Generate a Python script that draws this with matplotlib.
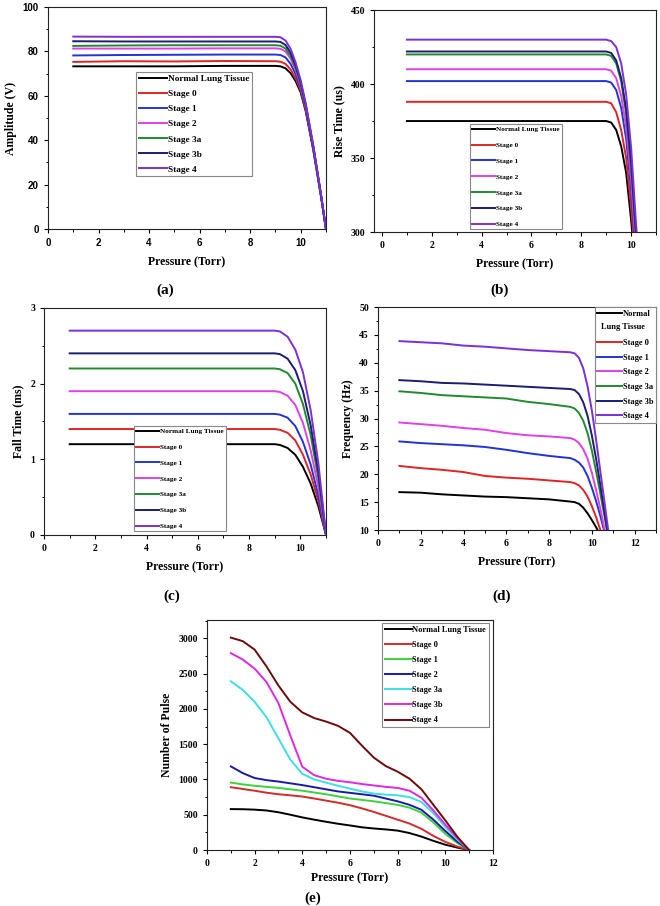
import matplotlib
matplotlib.use("Agg")
import matplotlib.pyplot as plt
from matplotlib.ticker import MultipleLocator, AutoMinorLocator
from matplotlib.legend_handler import HandlerBase
from matplotlib.text import Text

plt.rcParams["font.family"] = "Liberation Serif"
plt.rcParams["font.weight"] = "bold"
plt.rcParams["axes.labelweight"] = "bold"

stages = ["Normal Lung Tissue", "Stage 0", "Stage 1", "Stage 2", "Stage 3a", "Stage 3b", "Stage 4"]

# (a) amplitude
x_a = [1, 3, 5, 7, 9, 9.2, 9.4, 9.6, 9.8, 10.0, 10.2, 10.5, 10.8, 11]
amp = [
    [73.3, 73.3, 73.3, 73.5, 73.5, 73.3, 72.4, 70.2, 66.6, 61.5, 53.0, 35.5, 15.0, 0],
    [75.3, 75.6, 75.5, 75.7, 75.6, 75.4, 74.4, 71.9, 67.9, 62.3, 53.5, 35.8, 15.1, 0],
    [78.2, 78.4, 78.5, 78.6, 78.6, 78.4, 77.3, 74.4, 69.8, 63.5, 54.2, 36.2, 15.3, 0],
    [81.3, 81.3, 81.3, 81.4, 81.4, 81.2, 80.0, 76.8, 71.6, 64.7, 55.0, 36.6, 15.4, 0],
    [82.5, 82.7, 82.8, 82.8, 82.8, 82.6, 81.3, 78.0, 72.5, 65.3, 55.4, 36.8, 15.5, 0],
    [84.6, 84.5, 84.5, 84.5, 84.5, 84.3, 82.9, 79.4, 73.6, 66.0, 55.9, 37.1, 15.6, 0],
    [86.7, 86.6, 86.6, 86.6, 86.6, 86.4, 84.9, 81.2, 75.0, 67.0, 56.5, 37.5, 15.8, 0],
]

# (b) rise time
x_b = [1, 5, 9, 9.2, 9.4, 9.6, 9.8, 10.0, 10.2, 10.4]
rise = [
    [375, 375, 375, 374, 369, 358, 340, 308, 268, 230],
    [388, 388, 388, 387, 381, 369, 350, 317, 274, 235],
    [402, 402, 402, 401, 396, 384, 363, 328, 282, 240],
    [410, 410, 410, 409, 404, 392, 371, 335, 288, 245],
    [420, 420, 420, 419, 414, 402, 380, 344, 295, 250],
    [422, 422, 422, 421, 416, 404, 383, 347, 298, 252],
    [430, 430, 430, 429, 425, 414, 393, 357, 305, 258],
]

# (c) fall time
x_c = [1, 5, 9, 9.2, 9.5, 9.8, 10.1, 10.4, 10.7, 11]
fall = [
    [1.2, 1.2, 1.2, 1.19, 1.15, 1.06, 0.90, 0.68, 0.38, 0],
    [1.4, 1.4, 1.4, 1.39, 1.35, 1.25, 1.06, 0.80, 0.45, 0],
    [1.6, 1.6, 1.6, 1.59, 1.55, 1.44, 1.23, 0.93, 0.52, 0],
    [1.9, 1.9, 1.9, 1.89, 1.84, 1.72, 1.48, 1.12, 0.63, 0],
    [2.2, 2.2, 2.2, 2.19, 2.14, 2.00, 1.73, 1.32, 0.75, 0],
    [2.4, 2.4, 2.4, 2.39, 2.33, 2.18, 1.90, 1.45, 0.83, 0],
    [2.7, 2.7, 2.7, 2.69, 2.62, 2.45, 2.15, 1.65, 0.95, 0],
]

# (d) frequency
x_d = [1, 2, 3, 4, 5, 6, 7, 8, 9, 9.2, 9.4, 9.6, 9.8, 10.0, 10.2, 10.4, 10.6, 10.8]
freq = [
    [16.8, 16.7, 16.4, 16.2, 16.0, 15.9, 15.7, 15.5, 15.1, 15.0, 14.7, 14.0, 13.0, 11.8, 10.5, 9.0, 7.5, 6.0],
    [21.5, 21.1, 20.8, 20.4, 19.7, 19.4, 19.2, 18.9, 18.6, 18.4, 18.0, 17.2, 16.0, 14.3, 12.3, 10.0, 7.5, 5.0],
    [25.9, 25.6, 25.4, 25.2, 24.9, 24.4, 23.8, 23.3, 22.9, 22.6, 22.1, 21.2, 19.7, 17.6, 15.2, 12.5, 9.5, 6.5],
    [29.3, 29.0, 28.7, 28.3, 28.0, 27.4, 27.0, 26.8, 26.5, 26.2, 25.6, 24.5, 22.8, 20.3, 17.2, 13.8, 10.0, 6.5],
    [34.9, 34.6, 34.2, 34.0, 33.8, 33.6, 33.0, 32.6, 32.1, 31.8, 31.0, 29.6, 27.4, 24.3, 20.5, 16.5, 12.3, 8.0],
    [36.9, 36.7, 36.4, 36.3, 36.1, 35.9, 35.7, 35.5, 35.3, 35.1, 34.4, 32.9, 30.5, 27.0, 22.8, 18.0, 13.0, 8.0],
    [43.9, 43.7, 43.5, 43.1, 42.9, 42.6, 42.3, 42.1, 41.9, 41.7, 40.9, 39.0, 35.8, 31.5, 26.2, 20.5, 14.8, 9.0],
]

# (e) number of pulse
x_e = [1, 1.5, 2, 2.5, 3, 3.5, 4, 4.5, 5, 5.5, 6, 6.5, 7, 7.5, 8, 8.5, 9, 9.5, 10, 10.5, 11]
pulse = [
    [580, 578, 572, 560, 535, 500, 462, 430, 400, 372, 348, 322, 305, 292, 275, 240, 190, 130, 75, 35, 0],
    [890, 865, 840, 812, 790, 775, 758, 730, 700, 670, 635, 590, 540, 485, 430, 375, 300, 200, 115, 50, 0],
    [955, 930, 910, 895, 880, 860, 840, 815, 790, 760, 730, 710, 690, 665, 640, 600, 530, 390, 230, 100, 0],
    [1185, 1090, 1020, 990, 970, 945, 920, 890, 860, 830, 810, 790, 770, 730, 690, 640, 570, 430, 270, 120, 0],
    [2390, 2270, 2100, 1880, 1580, 1280, 1080, 1000, 955, 910, 870, 830, 800, 785, 775, 750, 680, 520, 330, 150, 0],
    [2790, 2700, 2570, 2380, 2080, 1620, 1180, 1060, 1010, 980, 960, 935, 915, 895, 880, 840, 740, 560, 360, 170, 0],
    [3010, 2960, 2840, 2600, 2330, 2100, 1950, 1870, 1820, 1760, 1660, 1480, 1310, 1190, 1110, 1010, 860, 640, 420, 190, 0],
]

colors_abcd = ["#000000", "#e02424", "#2233d6", "#e040e6", "#218a2e", "#1c1c72", "#7b2fd8"]
colors_e = ["#000000", "#d42a2a", "#3ad43a", "#1a1aa8", "#3ae0e6", "#e028e0", "#6e0a0a"]

fig = plt.figure(figsize=(6.6, 9.06), dpi=100)


class TextRow:
    """Legend row that holds only text, starting at the handle position."""
    def __init__(self, text):
        self.text = text


class HandlerTextRow(HandlerBase):
    def create_artists(self, legend, orig_handle, xdescent, ydescent, width, height, fontsize, trans):
        t = Text(-xdescent + 3, -ydescent + height / 2, orig_handle.text, fontsize=fontsize,
                 fontweight="bold", ha="left", va="center", transform=trans)
        return [t]


def style_axes(ax, xlim, ylim, xmaj, ymaj, tick_family="Liberation Serif"):
    ax.set_xlim(*xlim)
    ax.set_ylim(*ylim)
    ax.xaxis.set_major_locator(MultipleLocator(xmaj))
    ax.yaxis.set_major_locator(MultipleLocator(ymaj))
    ax.xaxis.set_minor_locator(AutoMinorLocator(2))
    ax.yaxis.set_minor_locator(AutoMinorLocator(2))
    ax.tick_params(which="major", direction="out", length=3, width=0.8, labelsize=7)
    ax.tick_params(which="minor", direction="out", length=1.8, width=0.7)
    for lab in ax.get_xticklabels() + ax.get_yticklabels():
        lab.set_family(tick_family)
        lab.set_weight("bold")
    for sp in ax.spines.values():
        sp.set_linewidth(0.8)
        sp.set_color("#222222")
    ax.set_xlabel("Pressure (Torr)", fontsize=8.5, labelpad=6)


def add_legend(ax, loc, anchor, size, spacing=0.75, hlen=3.2, handles=None, labels=None, hmap=None):
    leg = ax.legend(handles=handles, labels=labels, loc=loc, bbox_to_anchor=anchor,
                    fontsize=size, fancybox=False, framealpha=1, edgecolor="#888888",
                    handlelength=hlen, handletextpad=0.1, labelspacing=spacing,
                    borderpad=0.3, borderaxespad=0, handler_map=hmap)
    leg.get_frame().set_linewidth(0.8)
    return leg


# (a)
ax = fig.add_axes([0.0727, 0.7472, 0.4212, 0.245])
for y, c, name in zip(amp, colors_abcd, stages):
    ax.plot(x_a, y, color=c, lw=1.4, label=name)
style_axes(ax, (0, 11), (0, 100), 2, 20, tick_family="Liberation Sans")
ax.set_ylabel("Amplitude (V)", fontsize=8.5)
add_legend(ax, "upper left", (0.317, 0.707), 6.7, spacing=0.7, hlen=3.0)

# (b)
ax = fig.add_axes([0.5667, 0.7439, 0.4273, 0.245])
for y, c, name in zip(rise, colors_abcd, stages):
    ax.plot(x_b, y, color=c, lw=1.4, label=name)
style_axes(ax, (-0.32, 11), (300, 450), 2, 50)
ax.set_ylabel("Rise Time (us)", fontsize=8.5)
add_legend(ax, "upper left", (0.34, 0.486), 5.2, spacing=1.35)

# (c)
ax = fig.add_axes([0.0667, 0.4095, 0.4273, 0.2506])
for y, c, name in zip(fall, colors_abcd, stages):
    ax.plot(x_c, y, color=c, lw=1.4, label=name)
style_axes(ax, (0, 11), (0, 3), 2, 1)
ax.set_ylabel("Fall Time (ms)", fontsize=8.5)
add_legend(ax, "upper left", (0.319, 0.48), 5.2, spacing=1.35)

# (d)
ax = fig.add_axes([0.5727, 0.415, 0.4212, 0.246])
lines_d = []
for y, c in zip(freq, colors_abcd):
    lines_d += ax.plot(x_d, y, color=c, lw=1.4)
style_axes(ax, (0, 13), (10, 50), 2, 5)
ax.set_ylabel("Frequency (Hz)", fontsize=8.5)
add_legend(ax, "upper right", (1.0, 1.0), 6, spacing=0.8, hlen=3.0,
           handles=[lines_d[0], TextRow("Lung Tissue")] + lines_d[1:],
           labels=["Normal", ""] + stages[1:],
           hmap={TextRow: HandlerTextRow()})

# (e)
ax = fig.add_axes([0.3136, 0.0618, 0.4333, 0.2539])
for y, c, name in zip(pulse, colors_e, stages):
    ax.plot(x_e, y, color=c, lw=1.4, label=name)
style_axes(ax, (0, 12), (0, 3260), 2, 500)
ax.set_ylabel("Number of Pulse", fontsize=8.5)
ax.xaxis.labelpad = 3
add_legend(ax, "upper right", (0.985, 0.985), 6, spacing=0.85)

for lab, x, y in [("(a)", 165, 290), ("(b)", 500, 290), ("(c)", 172, 596),
                  ("(d)", 502, 596), ("(e)", 313, 898)]:
    fig.text(x / 660, 1 - y / 906, lab, ha="center", va="center", fontsize=11, fontweight="bold")

fig.savefig("out.png", dpi=100)
